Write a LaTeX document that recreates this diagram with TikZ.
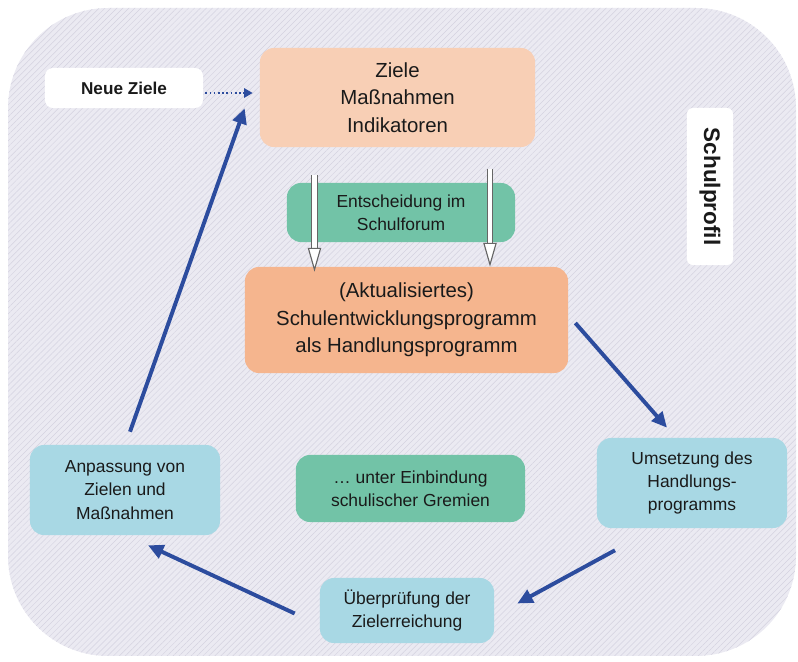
\documentclass[tikz,border=0pt]{standalone}
\usepackage{fontspec}
\setmainfont{Liberation Sans}
\usetikzlibrary{arrows.meta,calc,patterns.meta}

\definecolor{bgfill}{RGB}{235,234,242}
\definecolor{bgline}{RGB}{212,210,224}
\definecolor{peach}{RGB}{248,207,181}
\definecolor{orangebox}{RGB}{245,181,142}
\definecolor{greenbox}{RGB}{114,195,167}
\definecolor{bluebox}{RGB}{168,216,228}
\definecolor{arrblue}{RGB}{44,76,158}
\definecolor{txt}{RGB}{26,26,26}

\begin{document}
\begin{tikzpicture}[x=0.025cm,y=-0.025cm,
    box/.style={rounded corners=0.35cm, inner sep=0pt, align=center, text=txt},
    big/.style={box, font=\fontsize{14.5}{19.5}\selectfont},
    small/.style={box, font=\fontsize{12.4}{16.5}\selectfont},
    flow/.style={draw=arrblue, line width=2.8pt, -{Triangle[length=11pt,width=10pt]}},
    hollow/.style={draw=black!60, line width=0.8pt, double=white, double distance=3.2pt,
        -{Triangle[length=17pt,width=9.5pt,fill=white]}}]

    \useasboundingbox (0,0) rectangle (798,662);
    \fill[bgfill, rounded corners=2.5cm,
        postaction={pattern={Lines[angle=45,distance=3pt,line width=0.35pt]}, pattern color=bgline}]
        (8,8) rectangle (796,656);

    \node[box, fill=white, rounded corners=0.2cm, minimum width=3.95cm, minimum height=1cm,
        font=\fontsize{12.2}{15}\selectfont\bfseries] (neue) at (124,88) {Neue Ziele};
    \node[big, fill=peach, minimum width=6.875cm, minimum height=2.475cm] (ziele) at (397.5,97.5)
        {Ziele\\Maßnahmen\\Indikatoren};
    \node[small, fill=greenbox, minimum width=5.7cm, minimum height=1.475cm] (forum) at (401,212.5)
        {Entscheidung im\\Schulforum};
    \node[big, fill=orangebox, minimum width=8.075cm, minimum height=2.65cm] (sep) at (406.5,320)
        {(Aktualisiertes)\\Schulentwicklungsprogramm\\als Handlungsprogramm};
    \node[box, fill=white, rounded corners=0.15cm, rotate=-90, minimum width=3.925cm, minimum height=1.15cm,
        font=\fontsize{16}{19}\selectfont\bfseries] (profil) at (710,186.5) {Schulprofil};
    \node[small, fill=bluebox, minimum width=4.75cm, minimum height=2.25cm] (anpassung) at (125,490)
        {Anpassung von\\Zielen und\\Maßnahmen};
    \node[small, fill=greenbox, minimum width=5.725cm, minimum height=1.675cm] (gremien) at (410.5,488.5)
        {… unter Einbindung\\schulischer Gremien};
    \node[small, fill=bluebox, minimum width=4.75cm, minimum height=2.25cm] (umsetzung) at (692,483)
        {Umsetzung des\\Handlungs-\\programms};
    \node[small, fill=bluebox, minimum width=4.35cm, minimum height=1.625cm] (pruefung) at (407,610.5)
        {Überprüfung der\\Zielerreichung};

    % Beschluss im Schulforum
    \coordinate (down1) at ($(ziele.south)+(-83,28)$);
    \coordinate (down2) at ($(ziele.south)+(92.5,22)$);
    \draw[hollow] (down1) -- ($(down1 |- sep.north)+(0,5)$);
    \draw[hollow] (down2) -- (down2 |- sep.north);

    % Kreislauf
    \draw[arrblue, line width=1.4pt, dash pattern=on 1.2pt off 1.8pt,
        -{Triangle[length=6pt,width=6.5pt]}] ($(neue.east)+(2,5)$) -- ($(ziele.west)+(-7,-4.5)$);
    \draw[flow] ($(anpassung.north)+(5,-13)$) -- ($(ziele.south west)+(-15,-39)$);
    \draw[flow] ($(sep.east)+(7,3)$) -- ($(umsetzung.north)+(-25,-10)$);
    \draw[flow] ($(umsetzung.south)+(-77,22)$) -- ($(pruefung.east)+(23,-7)$);
    \draw[flow] ($(pruefung.west)+(-25,3)$) -- ($(anpassung.south)+(23,10)$);
\end{tikzpicture}
\end{document}
